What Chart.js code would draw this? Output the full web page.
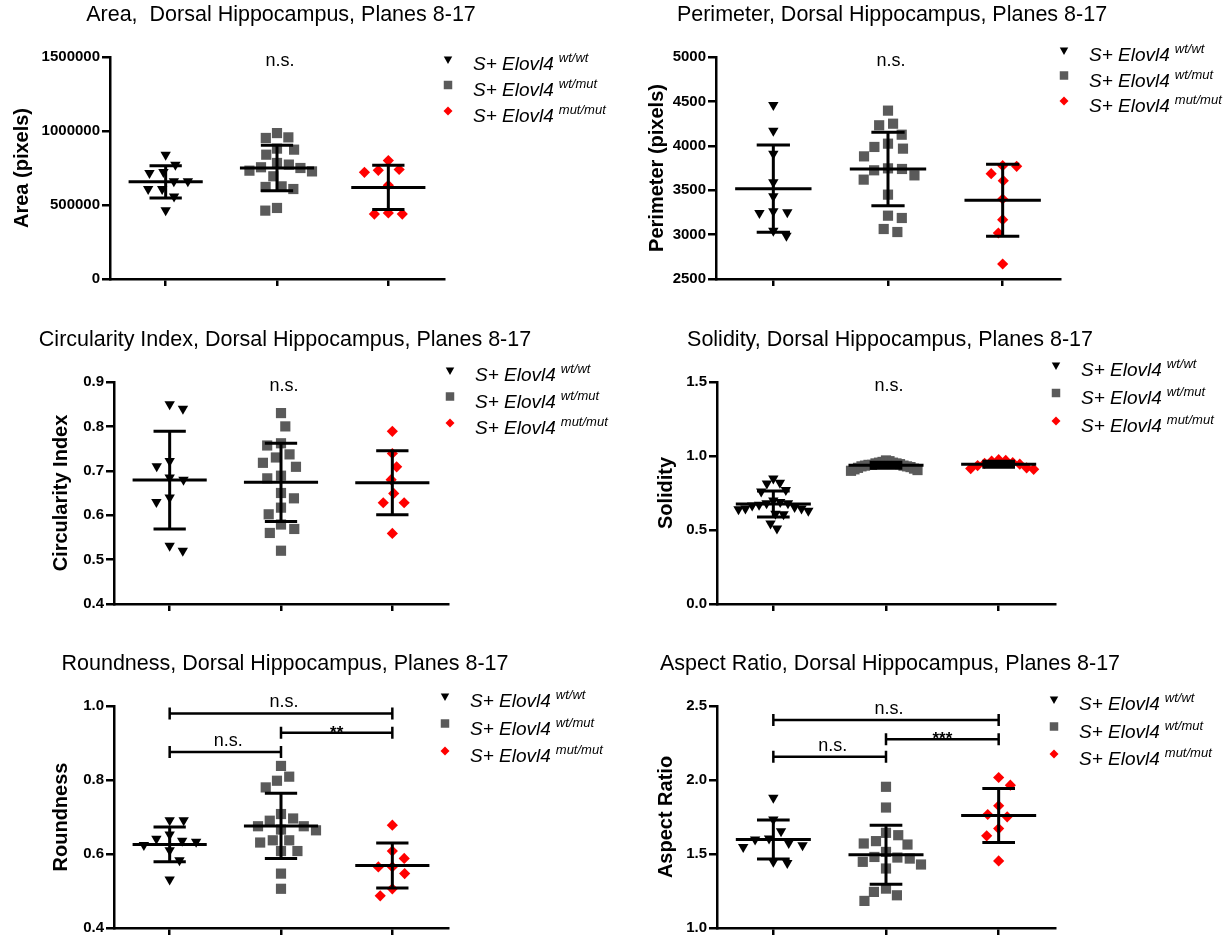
<!DOCTYPE html>
<html><head><meta charset="utf-8">
<script src="https://cdn.jsdelivr.net/npm/chart.js@4.4.1/dist/chart.umd.min.js"></script>
<style>
html,body{margin:0;padding:0;background:#fff;}
#wrap{position:relative;width:1228px;height:939px;overflow:hidden;background:#fff;}
canvas{position:absolute;}
</style></head><body><div id="wrap"></div>
<script>
// ---------------- data ----------------
const groupBase = 'S+ Elovl4';
const groupSup = ['wt/wt', 'wt/mut', 'mut/mut'];

const areaTicks = [0, 500000, 1000000, 1500000];
const areaWt  = [840000, 772000, 723000, 716000, 660000, 660000, 608000, 608000, 558000, 464000];
const areaHet = [986000, 953000, 957000, 874000, 881000, 840000, 773000, 784000, 750000, 755000, 727000, 732000, 694000, 626000, 608000, 622000, 462000, 480000];
const areaMut = [800000, 740000, 721000, 734000, 633000, 446000, 439000, 439000];
const areaMean = [657000, 750000, 619000];
const areaSD   = [109000, 153000, 150000];

const perimTicks = [2500, 3000, 3500, 4000, 4500, 5000];
const perimWt  = [4460, 4170, 3911, 3589, 3431, 3251, 3262, 3243, 2988, 3044];
const perimHet = [4396, 4231, 4249, 4125, 3987, 3968, 4024, 3881, 3739, 3724, 3746, 3667, 3619, 3450, 3213, 3187, 3029, 3063];
const perimMut = [3769, 3776, 3686, 3607, 3401, 3168, 3018, 2669];
const perimMean = [3517, 3739, 3386];
const perimSD   = [491, 413, 405];

const circTicks = [0.4, 0.5, 0.6, 0.7, 0.8, 0.9];
const circWt  = [0.84, 0.85, 0.71, 0.722, 0.685, 0.68, 0.64, 0.63, 0.52, 0.531];
const circHet = [0.83, 0.80, 0.762, 0.757, 0.737, 0.730, 0.718, 0.709, 0.689, 0.683, 0.650, 0.638, 0.617, 0.602, 0.579, 0.569, 0.560, 0.520];
const circMut = [0.789, 0.739, 0.709, 0.680, 0.649, 0.628, 0.628, 0.559];
const circMean = [0.679, 0.674, 0.673];
const circSD   = [0.110, 0.088, 0.072];

const solTicks = [0.0, 0.5, 1.0, 1.5];
const solWt  = [0.848, 0.819, 0.814, 0.77, 0.76, 0.70, 0.69, 0.68, 0.68, 0.67, 0.665, 0.655, 0.645, 0.645, 0.64, 0.63, 0.61, 0.607, 0.544, 0.510];
const solHet = [0.97, 0.965, 0.96, 0.955, 0.955, 0.95, 0.95, 0.945, 0.94, 0.94, 0.935, 0.935, 0.93, 0.93, 0.925, 0.92, 0.915, 0.91, 0.905, 0.90];
const solMut = [0.975, 0.97, 0.965, 0.955, 0.95, 0.945, 0.935, 0.92, 0.915, 0.91];
const solMean = [0.676, 0.938, 0.944];
const solSD   = [0.088, 0.02, 0.02];

const roundTicks = [0.4, 0.6, 0.8, 1.0];
const roundWt  = [0.691, 0.691, 0.653, 0.636, 0.633, 0.641, 0.624, 0.610, 0.583, 0.531];
const roundHet = [0.838, 0.798, 0.809, 0.780, 0.708, 0.696, 0.690, 0.675, 0.675, 0.666, 0.664, 0.637, 0.637, 0.631, 0.608, 0.608, 0.547, 0.506];
const roundMut = [0.678, 0.608, 0.588, 0.565, 0.565, 0.547, 0.506, 0.487];
const roundMean = [0.626, 0.676, 0.569];
const roundSD   = [0.047, 0.088, 0.061];
const roundSig = [
  {from: 1, to: 3, level: 0.980, label: 'n.s.'},
  {from: 2, to: 3, level: 0.928, label: '**'},
  {from: 1, to: 2, level: 0.876, label: 'n.s.'}
];

const aspTicks = [1.0, 1.5, 2.0, 2.5];
const aspWt  = [1.880, 1.733, 1.654, 1.598, 1.605, 1.559, 1.575, 1.548, 1.440, 1.447];
const aspHet = [1.954, 1.814, 1.643, 1.627, 1.587, 1.571, 1.564, 1.514, 1.476, 1.469, 1.429, 1.447, 1.402, 1.244, 1.266, 1.221, 1.183, 1.48];
const aspMut = [2.017, 1.965, 1.826, 1.767, 1.751, 1.672, 1.623, 1.453];
const aspMean = [1.598, 1.495, 1.760];
const aspSD   = [0.131, 0.200, 0.183];
const aspSig = [
  {from: 1, to: 3, level: 2.405, label: 'n.s.'},
  {from: 2, to: 3, level: 2.275, label: '***'},
  {from: 1, to: 2, level: 2.157, label: 'n.s.'}
];

// ---------------- styling / layout ----------------
const FONT = '"Liberation Sans", Arial, Helvetica, sans-serif';
Chart.defaults.font.family = FONT;
Chart.defaults.color = '#000';
const XH = 10;         // x-axis box height
const AXW = 2.5;       // axis line width
const groupStyle = [
  {style: 'triangle', rot: 180, r: 6.0, lr: 4.9, color: '#000000'},
  {style: 'rect',     rot: 0,   r: 7.2, lr: 6.0, color: '#5a5a5a'},
  {style: 'rectRot',  rot: 0,   r: 5.6, lr: 4.5, color: '#ff0000'}
];

const panels = [
  {title: 'Area,  Dorsal Hippocampus, Planes 8-17', yTitle: 'Area (pixels)',
   groups: [areaWt, areaHet, areaMut], mean: areaMean, sd: areaSD, ticks: areaTicks, dec: 0, ns: true, sig: [],
   box: {x: 0, y: 0, w: 614, h: 310, L: 110, T: 57, R: 444, B: 279, ytx: 22, legX: 448, legY: 59, legDy: 26}},
  {title: 'Perimeter, Dorsal Hippocampus, Planes 8-17', yTitle: 'Perimeter (pixels)',
   groups: [perimWt, perimHet, perimMut], mean: perimMean, sd: perimSD, ticks: perimTicks, dec: 0, ns: true, sig: [],
   box: {x: 614, y: 0, w: 614, h: 310, L: 102, T: 57, R: 446, B: 279, ytx: 43, legX: 450, legY: 50, legDy: 25.5}},
  {title: 'Circularity Index, Dorsal Hippocampus, Planes 8-17', yTitle: 'Circularity Index',
   groups: [circWt, circHet, circMut], mean: circMean, sd: circSD, ticks: circTicks, dec: 1, ns: true, sig: [],
   box: {x: 0, y: 310, w: 614, h: 320, L: 114, T: 72, R: 448, B: 294, ytx: 61, legX: 450, legY: 60, legDy: 26.5}},
  {title: 'Solidity, Dorsal Hippocampus, Planes 8-17', yTitle: 'Solidity',
   groups: [solWt, solHet, solMut], mean: solMean, sd: solSD, ticks: solTicks, dec: 1, ns: true, sig: [],
   box: {x: 614, y: 310, w: 614, h: 320, L: 103, T: 72, R: 441, B: 294, ytx: 52, legX: 442, legY: 55, legDy: 28}},
  {title: 'Roundness, Dorsal Hippocampus, Planes 8-17', yTitle: 'Roundness',
   groups: [roundWt, roundHet, roundMut], mean: roundMean, sd: roundSD, ticks: roundTicks, dec: 1, ns: false, sig: roundSig,
   box: {x: 0, y: 630, w: 614, h: 309, L: 114, T: 76, R: 448, B: 298, ytx: 61, legX: 445, legY: 66, legDy: 27.5}},
  {title: 'Aspect Ratio, Dorsal Hippocampus, Planes 8-17', yTitle: 'Aspect Ratio',
   groups: [aspWt, aspHet, aspMut], mean: aspMean, sd: aspSD, ticks: aspTicks, dec: 1, ns: false, sig: aspSig,
   box: {x: 614, y: 630, w: 614, h: 309, L: 103, T: 76, R: 441, B: 298, ytx: 52, legX: 440, legY: 69, legDy: 27.5}}
];

// beeswarm offsets (pixels) computed from the pixel positions given by the y scale
function swarm(py, D, cap) {
  const order = py.map((_, i) => i).sort((a, b) => py[a] - py[b]);
  const placed = [], off = new Array(py.length).fill(0);
  let side = 1;
  for (const i of order) {
    const y = py[i], ivs = [];
    for (const q of placed) {
      const dy = Math.abs(q.y - y);
      if (dy < D) { const w = Math.sqrt(D * D - dy * dy); ivs.push([q.x - w, q.x + w]); }
    }
    const cands = [0];
    ivs.forEach(v => cands.push(v[0], v[1]));
    cands.sort((a, b) => (Math.abs(a) - Math.abs(b)) || (side * (b - a)));
    let best = 0;
    for (const c of cands) {
      if (ivs.every(v => c <= v[0] + 1e-6 || c >= v[1] - 1e-6)) { best = c; break; }
    }
    if (best !== 0) side = -Math.sign(best);
    off[i] = best;
    placed.push({x: best, y});
  }
  const m = Math.max(...off.map(Math.abs));
  if (m > cap) for (let i = 0; i < off.length; i++) off[i] *= cap / m;
  return off;
}

function drawMarker(ctx, gi, x, y) {
  const s = groupStyle[gi];
  const r = s.lr;
  ctx.save();
  ctx.fillStyle = s.color;
  ctx.beginPath();
  if (gi === 0) {
    ctx.moveTo(x, y + r);
    ctx.lineTo(x - r * Math.sin(Math.PI / 3), y - r / 2);
    ctx.lineTo(x + r * Math.sin(Math.PI / 3), y - r / 2);
  } else if (gi === 1) {
    const h = r * Math.SQRT1_2;
    ctx.rect(x - h, y - h, 2 * h, 2 * h);
  } else {
    ctx.moveTo(x, y - r); ctx.lineTo(x + r, y); ctx.lineTo(x, y + r); ctx.lineTo(x - r, y);
  }
  ctx.closePath();
  ctx.fill();
  ctx.restore();
}

const wrap = document.getElementById('wrap');

panels.forEach((p) => {
  const b = p.box;
  const cv = document.createElement('canvas');
  cv.width = b.w; cv.height = b.h;
  cv.style.left = b.x + 'px'; cv.style.top = b.y + 'px';
  cv.style.width = b.w + 'px'; cv.style.height = b.h + 'px';
  wrap.appendChild(cv);

  const decor = {
    id: 'decor',
    afterDatasetsDraw(chart) {
      const ctx = chart.ctx, xs = chart.scales.x, ys = chart.scales.y;
      const unit = xs.getPixelForValue(2) - xs.getPixelForValue(1);
      ctx.save();
      ctx.strokeStyle = '#000';
      ctx.lineWidth = 3;
      ctx.lineCap = 'butt';
      p.mean.forEach((m, gi) => {
        const cx = xs.getPixelForValue(gi + 1);
        const ym = ys.getPixelForValue(m);
        const yh = ys.getPixelForValue(m + p.sd[gi]);
        const yl = ys.getPixelForValue(m - p.sd[gi]);
        ctx.beginPath();
        ctx.moveTo(cx - 0.333 * unit, ym); ctx.lineTo(cx + 0.333 * unit, ym);
        ctx.moveTo(cx, yh); ctx.lineTo(cx, yl);
        ctx.moveTo(cx - 0.145 * unit, yh); ctx.lineTo(cx + 0.145 * unit, yh);
        ctx.moveTo(cx - 0.145 * unit, yl); ctx.lineTo(cx + 0.145 * unit, yl);
        ctx.stroke();
      });
      ctx.restore();
    },
    afterDraw(chart) {
      const ctx = chart.ctx, xs = chart.scales.x, ys = chart.scales.y, ca = chart.chartArea;
      ctx.save();
      ctx.fillStyle = '#000';
      // title
      ctx.font = '21.5px ' + FONT;
      ctx.textAlign = 'center';
      ctx.textBaseline = 'alphabetic';
      ctx.fillText(p.title, (ca.left + ca.right) / 2 + 4, ca.top - 36);
      // n.s.
      if (p.ns) {
        ctx.font = '18px ' + FONT;
        ctx.fillText('n.s.', xs.getPixelForValue(2) + 3, ca.top + 9);
      }
      // significance brackets
      ctx.strokeStyle = '#000';
      ctx.lineWidth = 2.5;
      p.sig.forEach(s => {
        const x1 = xs.getPixelForValue(s.from), x2 = xs.getPixelForValue(s.to);
        const y = ys.getPixelForValue(s.level);
        ctx.beginPath();
        ctx.moveTo(x1, y); ctx.lineTo(x2, y);
        ctx.moveTo(x1, y - 6); ctx.lineTo(x1, y + 6);
        ctx.moveTo(x2, y - 6); ctx.lineTo(x2, y + 6);
        ctx.stroke();
        ctx.textAlign = 'center';
        if (s.label === 'n.s.') {
          ctx.font = '18px ' + FONT;
          ctx.fillText(s.label, (x1 + x2) / 2 + 3, y - 6);
        } else {
          ctx.font = 'bold 17px ' + FONT;
          ctx.fillText(s.label, (x1 + x2) / 2, y + 5);
        }
      });
      // legend
      ctx.textAlign = 'left';
      groupSup.forEach((sup, gi) => {
        const my = b.legY + gi * b.legDy;
        drawMarker(ctx, gi, b.legX, my);
        const tx = b.legX + 25, by = my + 11;
        ctx.font = 'italic 19px ' + FONT;
        ctx.fillText(groupBase, tx, by);
        const w = ctx.measureText(groupBase).width;
        ctx.font = 'italic 13px ' + FONT;
        ctx.fillText(sup, tx + w + 5, by - 8);
      });
      ctx.restore();
    }
  };

  const datasets = p.groups.map((vals, gi) => ({
    label: groupBase + ' ' + groupSup[gi],
    data: vals.map(v => ({x: gi + 1, y: v})),
    pointStyle: groupStyle[gi].style,
    pointRotation: groupStyle[gi].rot,
    pointRadius: groupStyle[gi].r,
    pointHoverRadius: groupStyle[gi].r,
    pointBackgroundColor: groupStyle[gi].color,
    pointBorderColor: groupStyle[gi].color,
    pointBorderWidth: 0,
    showLine: false,
    clip: false
  }));

  const axisGrid = {display: true, drawOnChartArea: false, drawTicks: true, color: '#000', lineWidth: AXW};
  const chart = new Chart(cv, {
    type: 'scatter',
    data: {datasets},
    options: {
      responsive: false,
      animation: false,
      devicePixelRatio: 1,
      events: [],
      layout: {padding: {left: 0, top: b.T, right: b.w - b.R, bottom: b.h - b.B - XH}},
      plugins: {legend: {display: false}, tooltip: {enabled: false}, title: {display: false}},
      scales: {
        x: {
          type: 'linear', min: 0.5, max: 3.5,
          afterBuildTicks: s => { s.ticks = [1, 2, 3].map(v => ({value: v})); },
          ticks: {display: false},
          grid: Object.assign({}, axisGrid, {tickLength: 7}),
          border: {display: true, color: '#000', width: AXW},
          afterFit: s => { s.height = XH; }
        },
        y: {
          type: 'linear', min: p.ticks[0], max: p.ticks[p.ticks.length - 1],
          afterBuildTicks: s => { s.ticks = p.ticks.map(v => ({value: v})); },
          ticks: {font: {size: 15, weight: 'bold'}, color: '#000', padding: 2,
                  callback: v => Number(v).toFixed(p.dec)},
          grid: Object.assign({}, axisGrid, {tickLength: 8}),
          border: {display: true, color: '#000', width: AXW},
          title: {display: true, text: p.yTitle, color: '#000',
                  font: {size: 20, weight: 'bold'}, padding: {top: b.ytx - 12, bottom: 0}},
          afterFit: s => { s.width = b.L; }
        }
      }
    },
    plugins: [decor]
  });

  // spread the points of each column horizontally (beeswarm) using the chart's own scales
  const ys = chart.scales.y, xs = chart.scales.x;
  const unit = xs.getPixelForValue(2) - xs.getPixelForValue(1);
  p.groups.forEach((vals, gi) => {
    const py = vals.map(v => ys.getPixelForValue(v));
    const off = swarm(py, 14, 35);
    chart.data.datasets[gi].data = vals.map((v, i) => ({x: gi + 1 + off[i] / unit, y: v}));
  });
  chart.update('none');
});
</script>
</body></html>
